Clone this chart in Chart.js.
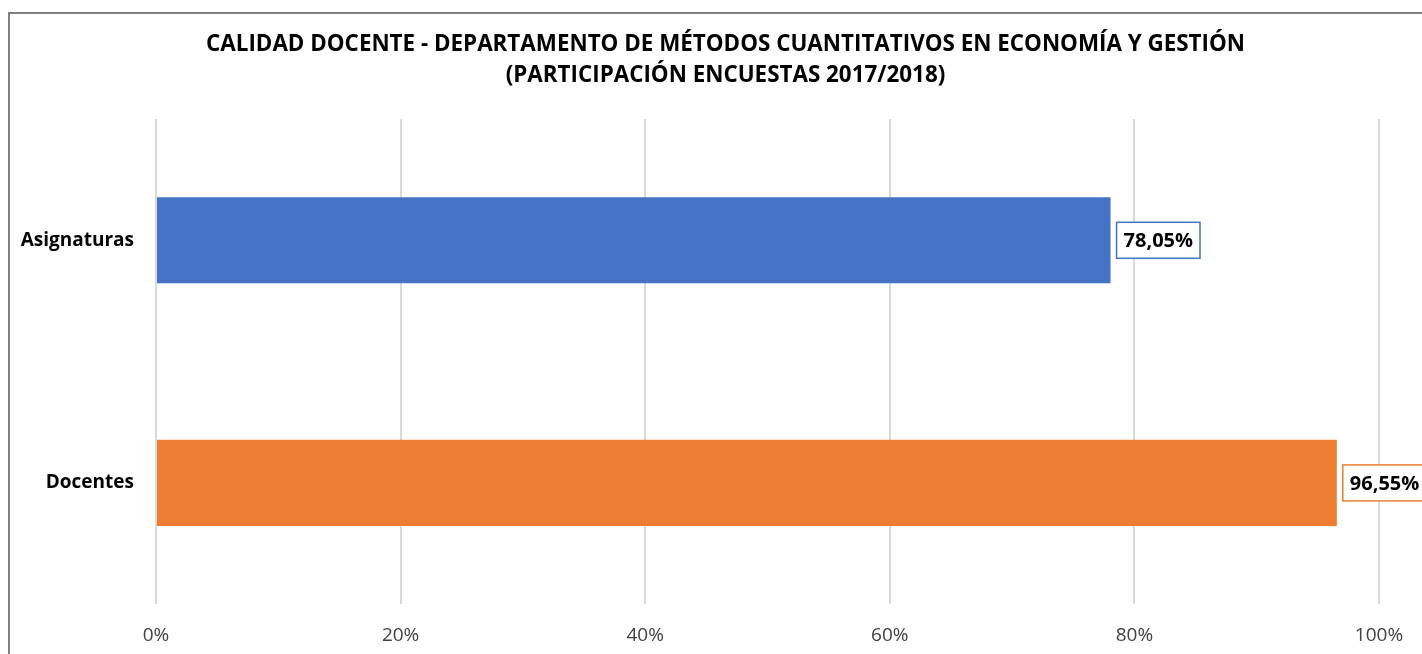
<!DOCTYPE html>
<html lang="es">
<head>
<meta charset="UTF-8">
<title>Calidad docente - Participación encuestas</title>
<script src="https://cdn.jsdelivr.net/npm/chart.js"></script>
<style>
    html, body { margin: 0; padding: 0; background: #fff; overflow: hidden; width: 1422px; height: 654px; }
    .marco { position: absolute; left: 8px; top: 12px; width: 1431px; height: 720px; border: 2px solid #7f7f7f; }
    .marco canvas { position: absolute; left: 0; top: 0; }
</style>
</head>
<body>
<div class="marco">
    <canvas id="grafico" width="1431" height="662"></canvas>
</div>

<script>
    const categorias = ['Asignaturas', 'Docentes'];
    const participacion = [78.05, 96.55];
    const colores = ['#4472C4', '#ED7D31'];
    const ticksX = [0, 20, 40, 60, 80, 100];
    const titulo = [
        'CALIDAD DOCENTE - DEPARTAMENTO DE MÉTODOS CUANTITATIVOS EN ECONOMÍA Y GESTIÓN',
        '(PARTICIPACIÓN ENCUESTAS 2017/2018)'
    ];

    const fuente = 'Open Sans';

    // etiquetas con caja al final de cada barra
    const etiquetas = {
        id: 'etiquetas',
        afterDatasetsDraw(chart) {
            const ctx = chart.ctx;
            const meta = chart.getDatasetMeta(0);
            ctx.save();
            ctx.font = 'bold 20px "' + fuente + '"';
            ctx.textBaseline = 'middle';
            meta.data.forEach(function (barra, i) {
                const texto = participacion[i].toFixed(2).replace('.', ',') + '%';
                const ancho = ctx.measureText(texto).width + 14;
                const x = barra.x + 6;
                const y = barra.y;
                ctx.fillStyle = '#ffffff';
                ctx.fillRect(x, y - 18, ancho, 36);
                ctx.strokeStyle = colores[i];
                ctx.lineWidth = 1.5;
                ctx.strokeRect(x, y - 18, ancho, 36);
                ctx.fillStyle = '#000000';
                ctx.fillText(texto, x + 7, y + 1);
            });
            ctx.restore();
        }
    };

    new Chart(document.getElementById('grafico'), {
        type: 'bar',
        data: {
            labels: categorias,
            datasets: [{
                data: participacion,
                backgroundColor: colores,
                categoryPercentage: 1,
                barPercentage: 0.355
            }]
        },
        options: {
            indexAxis: 'y',
            responsive: false,
            animation: false,
            layout: { padding: { left: 0, right: 0, top: 0, bottom: 9 } },
            plugins: {
                legend: { display: false },
                tooltip: { enabled: false },
                title: {
                    display: true,
                    text: titulo,
                    color: '#000000',
                    font: { family: fuente, size: 22.4, weight: 'bold', lineHeight: 31 / 22.4 },
                    padding: { top: 15.5, bottom: 27.5 }
                }
            },
            scales: {
                x: {
                    min: 0,
                    max: 100,
                    afterBuildTicks: function (escala) {
                        escala.ticks = ticksX.map(function (v) { return { value: v }; });
                    },
                    grid: { color: '#d9d9d9', lineWidth: 2, drawTicks: false },
                    border: { display: false },
                    ticks: {
                        padding: 20,
                        color: '#404040',
                        font: { family: fuente, size: 19 },
                        callback: function (v) { return v + '%'; }
                    }
                },
                y: {
                    grid: { display: false, drawTicks: false },
                    border: { display: false },
                    ticks: {
                        padding: 22,
                        color: '#000000',
                        font: { family: fuente, size: 19, weight: 'bold' }
                    },
                    afterFit: function (escala) { escala.width = 146; }
                },
                // eje vacío a la derecha: deja el margen sin descentrar el título
                margenDerecho: {
                    type: 'category',
                    axis: 'y',
                    position: 'right',
                    grid: { display: false, drawTicks: false },
                    border: { display: false },
                    ticks: { display: false },
                    afterFit: function (escala) { escala.width = 62; }
                }
            }
        },
        plugins: [etiquetas]
    });
</script>
</body>
</html>
